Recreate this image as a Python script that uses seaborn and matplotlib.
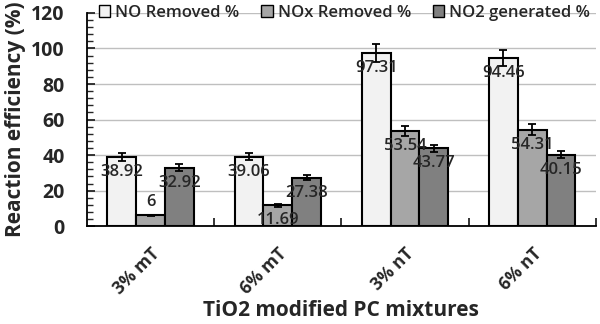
import matplotlib
matplotlib.use("Agg")
import matplotlib.pyplot as plt
import seaborn as sns
import pandas as pd
import numpy as np
from matplotlib.ticker import MultipleLocator, FixedLocator

categories = ["3% mT", "6% mT", "3% nT", "6% nT"]
series = ["NO Removed %", "NOx Removed %", "NO2 generated %"]
no_removed = [38.92, 39.06, 97.31, 94.46]
nox_removed = [6, 11.69, 53.54, 54.31]
no2_generated = [32.92, 27.38, 43.77, 40.15]
no_err = [2.0, 2.0, 5.0, 4.5]
nox_err = [0.5, 1.0, 2.8, 3.0]
no2_err = [1.8, 1.5, 2.0, 2.0]
colors = ["#F2F2F2", "#A6A6A6", "#808080"]

sns.set_style("white")
plt.rcParams['font.family'] = ['Open Sans', 'DejaVu Sans']

rows = []
for s, vals in zip(series, [no_removed, nox_removed, no2_generated]):
    for c, v in zip(categories, vals):
        rows.append({"cat": c, "series": s, "value": v})
df = pd.DataFrame(rows)

fig = plt.figure(figsize=(6, 3.24), dpi=100)
ax = fig.add_axes([0.145, 0.302, 0.848, 0.658])
sns.barplot(data=df, x="cat", y="value", hue="series", order=categories,
            hue_order=series, palette=colors, width=0.68, edgecolor="black",
            linewidth=1.5, errorbar=None, ax=ax, zorder=3, legend=True)

errs = [no_err, nox_err, no2_err]
for cont, vals, er in zip(ax.containers, [no_removed, nox_removed, no2_generated], errs):
    xs = [p.get_x() + p.get_width() / 2 for p in cont.patches]
    ax.errorbar(xs, vals, yerr=er, fmt="none", ecolor="black", elinewidth=1.3,
                capsize=3, capthick=1.3, zorder=4)
    for x, v, p in zip(xs, vals, cont.patches):
        lbl = f"{v:g}"
        if v < 10:
            ax.text(x, v + 3, lbl, ha="center", va="bottom", fontsize=12,
                    fontweight="semibold", zorder=5)
        else:
            ax.text(x, v - 4, lbl, ha="center", va="top", fontsize=12,
                    fontweight="semibold", zorder=5)

ax.set_ylim(0, 120)
ax.set_xlim(-0.5, 3.5)
ax.yaxis.set_major_locator(MultipleLocator(20))
ax.yaxis.set_minor_locator(MultipleLocator(4))
ax.grid(axis="y", color="#BFBFBF", linewidth=1.0, zorder=0)
ax.set_axisbelow(True)

ax.xaxis.set_minor_locator(FixedLocator([0.5, 1.5, 2.5, 3.5]))
ax.tick_params(axis="x", which="major", length=0, pad=13)
ax.tick_params(axis="x", which="minor", direction="in", length=6, width=1.3, bottom=True)
ax.tick_params(axis="y", which="major", direction="in", length=6, width=1.3, left=True, pad=16)
ax.tick_params(axis="y", which="minor", direction="in", length=4, width=1.0, left=True)

for lab in ax.get_yticklabels():
    lab.set_fontsize(14)
    lab.set_fontweight("bold")
ax.set_xticks(range(len(categories)))
ax.set_xticklabels(categories, rotation=45, ha="right", rotation_mode="anchor",
                   fontsize=12.5, fontweight="bold")

for side in ["top", "right"]:
    ax.spines[side].set_visible(False)
for side in ["left", "bottom"]:
    ax.spines[side].set_color("black")
    ax.spines[side].set_linewidth(1.3)

ax.set_xlabel("TiO2 modified PC mixtures", fontsize=15, fontweight="bold", labelpad=2)
ax.set_ylabel("Reaction efficiency (%)", fontsize=15, fontweight="bold", labelpad=4)

handles, labels = ax.get_legend_handles_labels()
leg = ax.legend(handles, labels, loc="center left", bbox_to_anchor=(0.01, 1.0), ncol=3,
                frameon=False, fontsize=12, handlelength=0.7, handleheight=0.7,
                handletextpad=0.3, columnspacing=1.3, borderaxespad=0)
for t in leg.get_texts():
    t.set_fontweight("semibold")
for h in leg.legend_handles:
    h.set_linewidth(1.0)

fig.savefig("out.png", dpi=100)
